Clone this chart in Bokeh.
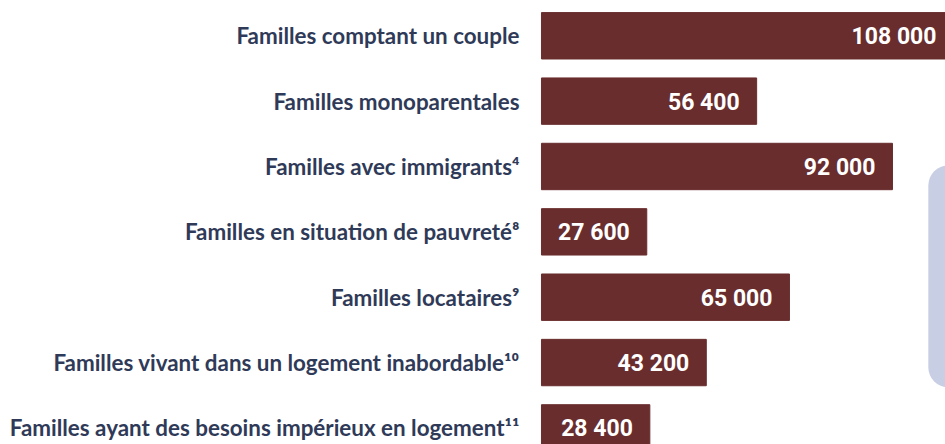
from bokeh.plotting import figure
from bokeh.models import Range1d, ColumnDataSource, BoxAnnotation
from bokeh.core.properties import value
from bokeh.embed import file_html
from bokeh.resources import INLINE

# Family counts by category
categories = [
    "Familles comptant un couple",
    "Familles monoparentales",
    "Familles avec immigrants\u2074",
    "Familles en situation de pauvreté\u2078",
    "Familles locataires\u2079",
    "Familles vivant dans un logement inabordable\u00b9\u2070",
    "Familles ayant des besoins impérieux en logement\u00b9\u00b9",
]
counts = [108000, 56400, 92000, 27600, 65000, 43200, 28400]
count_labels = ["108 000", "56 400", "92 000", "27 600", "65 000", "43 200", "28 400"]

BAR = "#692d2e"
NAVY = "#2f3a58"

src = ColumnDataSource(dict(
    y=list(range(len(categories))),
    cat=categories,
    n=counts,
    lab=count_labels,
))

p = figure(
    width=945, height=444,
    x_range=Range1d(-141800, 105900),
    y_range=Range1d(6.254, -0.540),
    output_backend="svg", toolbar_location=None,
    min_border=0,
)
p.axis.visible = False
p.grid.visible = False
p.outline_line_color = None
p.background_fill_color = "white"
p.border_fill_color = "white"

# Decorative panel at the right edge
p.add_layout(BoxAnnotation(
    left=101400, right=120000, top=1.985, bottom=5.38,
    fill_color="#c8cee3", fill_alpha=1.0, line_color=None,
    border_radius=20, level="underlay",
))

p.hbar(y="y", left=0, right="n", height=0.71, source=src,
       fill_color=BAR, line_color=BAR)

p.text(x=0, y="y", text="cat", source=src, x_offset=-22,
       text_align="right", text_baseline="middle",
       text_font=value("Lato"), text_font_size="22.4px",
       text_font_style="bold", text_color=NAVY)

p.text(x="n", y="y", text="lab", source=src, x_offset=-17, y_offset=1,
       text_align="right", text_baseline="middle",
       text_font=value("Roboto"), text_font_size="23px",
       text_font_style="bold", text_color="white")

open("out.html", "w").write(file_html(p, INLINE))
